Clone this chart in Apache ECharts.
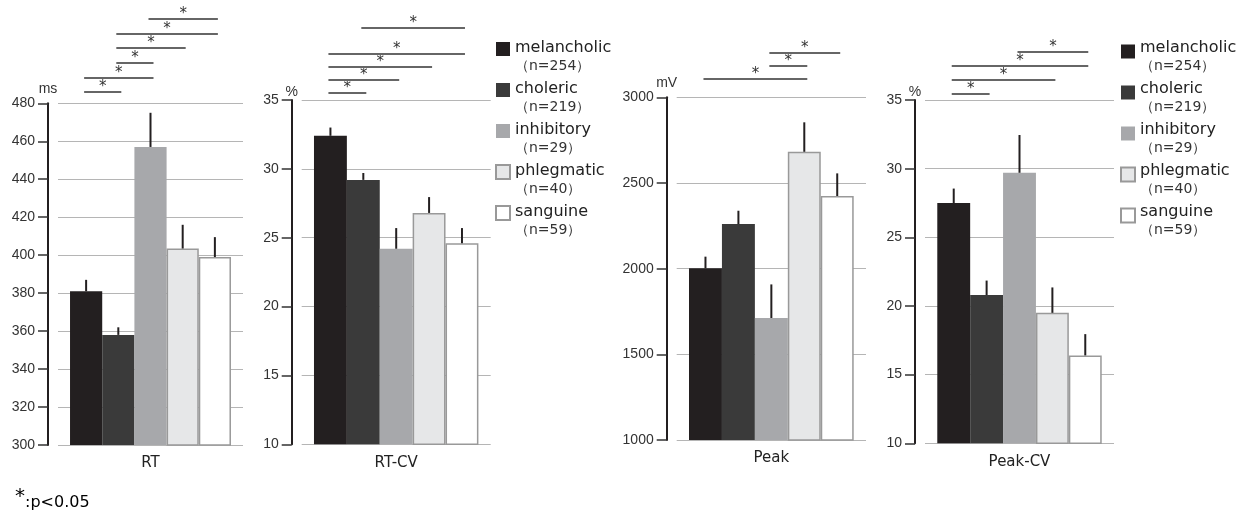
<!DOCTYPE html>
<html>
<head>
<meta charset="utf-8">
<script src="https://cdn.jsdelivr.net/npm/echarts@6/dist/echarts.min.js"></script>
<style>
  html, body { margin: 0; padding: 0; background: #fff; }
  #main { width: 1242px; height: 513px; }
</style>
</head>
<body>
<div id="main"></div>
<script>
  // groups and sample sizes
  var groups = ['melancholic', 'choleric', 'inhibitory', 'phlegmatic', 'sanguine'];
  var groupN = [254, 219, 29, 40, 59];

  // measures, units, axis ranges
  var measures = ['RT', 'RT-CV', 'Peak', 'Peak-CV'];
  var units = ['ms', '%', 'mV', '%'];
  var axisMin = [300, 10, 1000, 10];
  var axisMax = [480, 35, 3000, 35];
  var axisStep = [20, 5, 500, 5];

  // means and top of error bars (mean + SE)
  var rtMean = [381, 358, 457, 403.5, 399];
  var rtErr = [387, 362, 475, 416, 409.5];
  var rtcvMean = [32.4, 29.2, 24.2, 26.8, 24.6];
  var rtcvErr = [33.0, 29.7, 25.7, 27.95, 25.7];
  var peakMean = [2002, 2260, 1712, 2682, 2424];
  var peakErr = [2070, 2338, 1908, 2854, 2556];
  var peakcvMean = [27.5, 20.8, 29.7, 19.5, 16.4];
  var peakcvErr = [28.55, 21.85, 32.45, 21.35, 17.95];

  // significant pairs: [group a, group b, bracket row]
  var rtSig = [[0, 1, 0], [0, 2, 1], [1, 2, 2], [1, 3, 3], [1, 4, 4], [2, 4, 5]];
  var rtcvSig = [[0, 1, 0], [0, 2, 1], [0, 3, 2], [0, 4, 3], [1, 4, 5]];
  var peakSig = [[0, 3, 0], [2, 3, 1], [2, 4, 2]];
  var peakcvSig = [[0, 1, 0], [0, 3, 1], [0, 4, 2], [2, 4, 3]];

  var means = [rtMean, rtcvMean, peakMean, peakcvMean];
  var errs = [rtErr, rtcvErr, peakErr, peakcvErr];
  var sigs = [rtSig, rtcvSig, peakSig, peakcvSig];

  var colors = ['#231f20', '#3a3a3a', '#a7a8ab', '#e6e7e8', '#ffffff'];
  var borders = [null, null, null, '#999999', '#999999'];

  // panel layout in px
  var panels = [
    { left: 58, width: 185, top: 103.3, bottom: 445, sig0: 92.3, sigStep: 14.7 },
    { left: 301.7, width: 189, top: 100, bottom: 444.3, sig0: 93.3, sigStep: 13 },
    { left: 676.7, width: 189.3, top: 97.3, bottom: 440, sig0: 79, sigStep: 17.3 },
    { left: 925, width: 189, top: 100, bottom: 443.3, sig0: 93.7, sigStep: 14 }
  ];
  var gapFrac = 0.13;
  var tickFont = 'Liberation Sans';
  var textFont = 'DejaVu Sans';

  function groupX(api, catX, idx) {
    var cw = api.size([1, 0])[0];
    var bw = cw * (1 - gapFrac) / groups.length;
    return catX + (idx - (groups.length - 1) / 2) * bw;
  }

  var chart = echarts.init(document.getElementById('main'));
  var grid = [], xAxis = [], yAxis = [], series = [];

  panels.forEach(function (p, k) {
    var gMain = grid.length;
    grid.push({ left: p.left, width: p.width, top: p.top, height: p.bottom - p.top, containLabel: false });
    grid.push({ left: p.left, width: p.width, top: p.sig0 - p.sigStep * 6, height: p.sigStep * 6, containLabel: false });

    xAxis.push({
      type: 'category', gridIndex: gMain, data: [measures[k]],
      axisLine: { show: false }, axisTick: { show: false }, splitLine: { show: false },
      axisLabel: { fontSize: 15, color: '#222', margin: 11, fontFamily: textFont }
    });
    xAxis.push({ type: 'category', gridIndex: gMain + 1, data: [measures[k]], show: false });

    yAxis.push({
      type: 'value', gridIndex: gMain, min: axisMin[k], max: axisMax[k], interval: axisStep[k],
      offset: 10,
      name: units[k], nameGap: 1,
      nameTextStyle: { fontSize: 14, color: '#333', fontFamily: tickFont },
      axisLine: { show: true, lineStyle: { color: '#231f20', width: 2 } },
      axisTick: { show: true, length: 10, lineStyle: { color: '#333', width: 1.5 } },
      axisLabel: { fontSize: 14, color: '#333', margin: 13, fontFamily: tickFont,
        formatter: function (v) { return String(v); } },
      splitLine: { show: true, lineStyle: { color: '#b5b5b5', width: 1 } }
    });
    yAxis.push({ type: 'value', gridIndex: gMain + 1, min: 0, max: 6, show: false, splitLine: { show: false } });

    groups.forEach(function (g, i) {
      series.push({
        name: g, type: 'bar', xAxisIndex: gMain, yAxisIndex: gMain,
        data: [means[k][i]],
        barGap: 0, barCategoryGap: (gapFrac * 100) + '%',
        itemStyle: {
          color: colors[i],
          borderColor: borders[i] || colors[i],
          borderWidth: borders[i] ? 1.5 : 0
        },
        animation: false
      });
    });

    // error bars
    series.push({
      type: 'custom', xAxisIndex: gMain, yAxisIndex: gMain, z: 5, animation: false,
      data: means[k].map(function (m, i) { return [0, m, errs[k][i], i]; }),
      encode: { x: 0, y: [1, 2] },
      renderItem: function (params, api) {
        var base = api.coord([api.value(0), api.value(1)]);
        var top = api.coord([api.value(0), api.value(2)]);
        var x = groupX(api, base[0], api.value(3));
        return { type: 'line', shape: { x1: x, y1: base[1], x2: x, y2: top[1] },
          style: { stroke: '#231f20', lineWidth: 2 } };
      }
    });

    // significance brackets
    series.push({
      type: 'custom', xAxisIndex: gMain + 1, yAxisIndex: gMain + 1, animation: false,
      data: sigs[k].map(function (s) { return [0, s[2], s[0], s[1]]; }),
      encode: { x: 0, y: 1 },
      renderItem: function (params, api) {
        var pt = api.coord([api.value(0), api.value(1)]);
        var y = Math.round(pt[1]);
        var x1 = groupX(api, pt[0], api.value(2)) - 2;
        var x2 = groupX(api, pt[0], api.value(3)) + 3;
        return { type: 'group', children: [
          { type: 'line', shape: { x1: x1, y1: y, x2: x2, y2: y },
            style: { stroke: '#666', lineWidth: 2 } },
          { type: 'text', style: { x: (x1 + x2) / 2, y: y + 3, text: '*', fill: '#333',
            fontSize: 15, fontFamily: textFont, align: 'center', verticalAlign: 'bottom' } }
        ] };
      }
    });
  });

  function legendAt(left, top, pad) {
    return {
      orient: 'vertical', left: left, top: top, itemWidth: 14, itemHeight: 14, itemGap: 8,
      icon: 'rect', selectedMode: false, data: groups,
      formatter: function (name) {
        return '{a|' + name + '}\n{b|（n=' + groupN[groups.indexOf(name)] + '）}';
      },
      textStyle: {
        padding: [pad, 0, 0, 0],
        rich: {
          a: { fontSize: 16, lineHeight: 18, color: '#222', fontFamily: textFont },
          b: { fontSize: 14, lineHeight: 18, color: '#333', fontFamily: textFont }
        }
      }
    };
  }

  var option = {
    backgroundColor: '#fff',
    animation: false,
    grid: grid, xAxis: xAxis, yAxis: yAxis, series: series,
    legend: [legendAt(490, 35, 16), legendAt(1115, 35, 11)],
    graphic: [{
      type: 'text', left: 15, top: 487,
      style: {
        text: '{s|*}{t|:p<0.05}',
        rich: {
          s: { fontSize: 20, color: '#222', fontFamily: textFont, verticalAlign: 'top' },
          t: { fontSize: 16, color: '#222', fontFamily: textFont, padding: [8, 0, 0, 0] }
        }
      }
    }]
  };

  chart.setOption(option);
</script>
</body>
</html>
